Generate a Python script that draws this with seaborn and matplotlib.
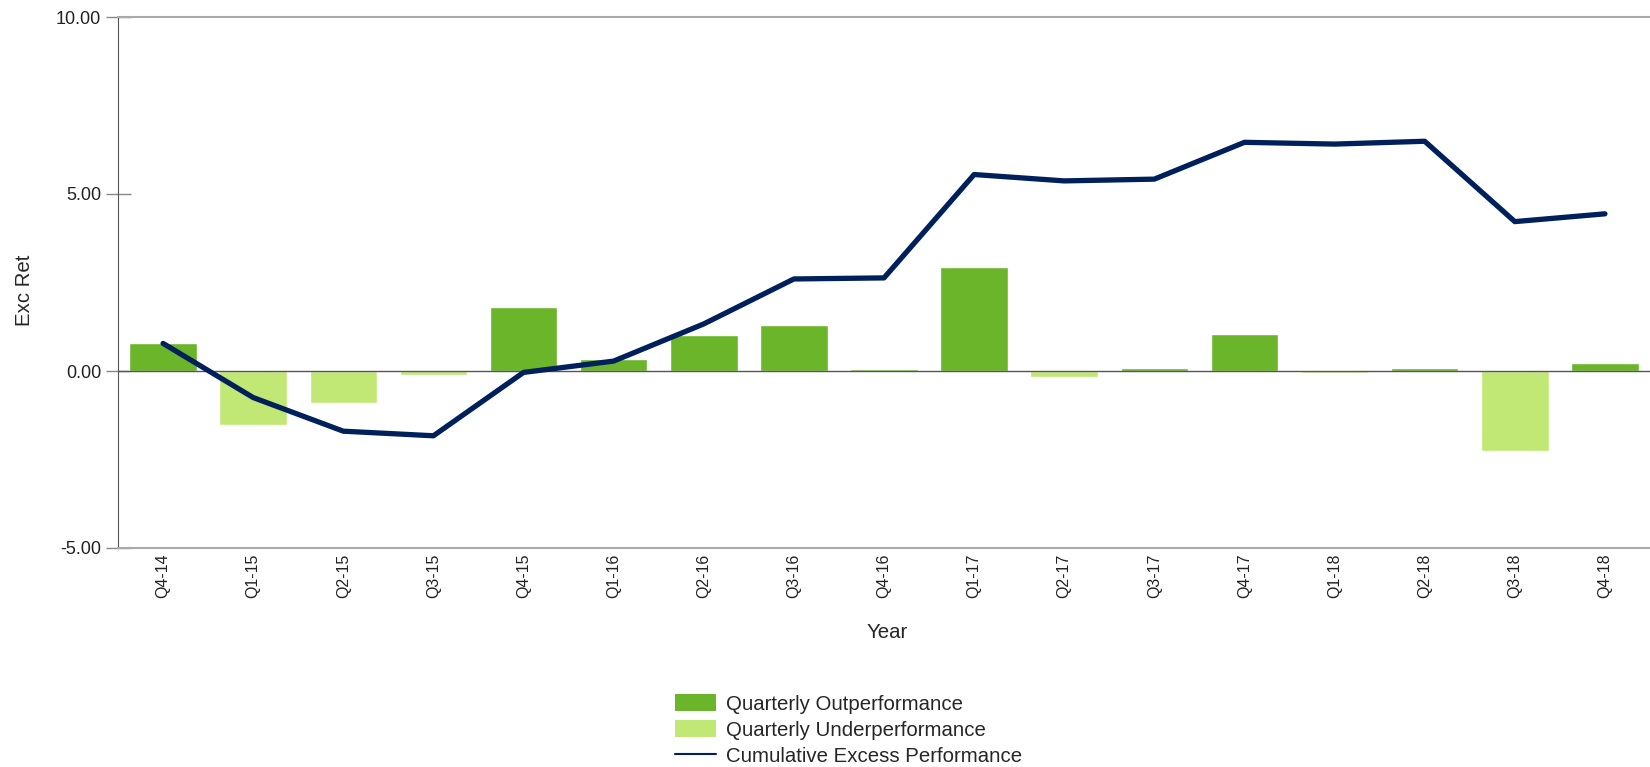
import numpy as np
import pandas as pd
import matplotlib
matplotlib.use("Agg")
import matplotlib.pyplot as plt
from matplotlib.lines import Line2D
from matplotlib.patches import Patch
import seaborn as sns

# values
quarters = ["Q4-14", "Q1-15", "Q2-15", "Q3-15", "Q4-15", "Q1-16", "Q2-16", "Q3-16", "Q4-16",
            "Q1-17", "Q2-17", "Q3-17", "Q4-17", "Q1-18", "Q2-18", "Q3-18", "Q4-18"]
quarterly = [0.80, -1.53, -0.91, -0.11, 1.80, 0.33, 1.03, 1.29, 0.05,
             2.93, -0.16, 0.08, 1.05, -0.05, 0.09, -2.25, 0.24]
cumulative = [0.78, -0.75, -1.70, -1.83, -0.04, 0.28, 1.33, 2.60, 2.63,
              5.55, 5.37, 5.42, 6.46, 6.41, 6.49, 4.22, 4.44]

out_col = "#6bb52a"
under_col = "#c1e774"
line_col = "#00205b"

df = pd.DataFrame({"Quarter": quarters, "Exc": quarterly, "Cum": cumulative})
df["Kind"] = np.where(df["Exc"] >= 0, "Quarterly Outperformance", "Quarterly Underperformance")

sns.set_style("white")
plt.rcParams["font.family"] = ["Liberation Sans", "DejaVu Sans"]

fig = plt.figure(figsize=(16.5, 7.67), dpi=100)
ax = fig.add_axes([118 / 1650, 1 - 548 / 767, 1532 / 1650, (548 - 17) / 767])

sns.barplot(data=df, x="Quarter", y="Exc", hue="Kind", order=quarters,
            palette={"Quarterly Outperformance": out_col, "Quarterly Underperformance": under_col},
            dodge=False, width=0.75, saturation=1, legend=False, ax=ax)
sns.lineplot(x=np.arange(len(quarters)), y=df["Cum"], color=line_col, lw=3.8,
             solid_capstyle="round", ax=ax)

ax.axhline(0, color="#555555", lw=1, zorder=1)
ax.set_ylim(-5, 10)
ax.set_xlim(-0.5, len(quarters) - 0.5)
ax.set_yticks([-5, 0, 5, 10])
ax.set_yticklabels(["-5.00", "0.00", "5.00", "10.00"], fontsize=13, color="#222222")
ax.tick_params(axis="y", left=True, direction="inout", length=18, width=1, color="#888888", pad=3)
ax.tick_params(axis="x", bottom=False, length=0, pad=4)
plt.setp(ax.get_xticklabels(), rotation=90, fontsize=11.5, color="#222222")

ax.spines["right"].set_visible(False)
ax.spines["left"].set_color("#555555")
ax.spines["top"].set_color("#aaaaaa")
ax.spines["top"].set_linewidth(1.5)
ax.spines["bottom"].set_color("#aaaaaa")
ax.spines["bottom"].set_linewidth(1.5)

ax.set_xlabel("")
ax.set_ylabel("")
fig.text(25 / 1650, 1 - 290 / 767, "Exc Ret", rotation=90, fontsize=14.7,
         ha="center", va="center")
fig.text(887 / 1650, 1 - 633 / 767, "Year", fontsize=14.7, ha="center", va="center")

handles = [Patch(facecolor=out_col, edgecolor="none"),
           Patch(facecolor=under_col, edgecolor="none"),
           Line2D([], [], color=line_col, lw=1.5)]
labels = ["Quarterly Outperformance", "Quarterly Underperformance", "Cumulative Excess Performance"]
fig.legend(handles, labels, loc="center left", bbox_to_anchor=(675 / 1650, 1 - 730 / 767),
           frameon=False, fontsize=14.7, handlelength=2.0, handleheight=0.9,
           handletextpad=0.5, labelspacing=0.33, borderpad=0, borderaxespad=0)

fig.savefig("out.png", dpi=100)
